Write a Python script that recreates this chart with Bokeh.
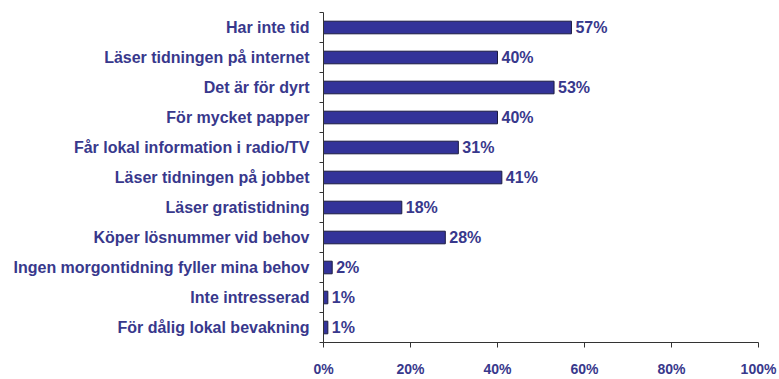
from bokeh.plotting import figure
from bokeh.models import FixedTicker, Range1d, ColumnDataSource
from bokeh.core.properties import value
from bokeh.embed import file_html
from bokeh.resources import INLINE

categories = [
    "Har inte tid",
    "Läser tidningen på internet",
    "Det är för dyrt",
    "För mycket papper",
    "Får lokal information i radio/TV",
    "Läser tidningen på jobbet",
    "Läser gratistidning",
    "Köper lösnummer vid behov",
    "Ingen morgontidning fyller mina behov",
    "Inte intresserad",
    "För dålig lokal bevakning",
]
values = [57, 40, 53, 40, 31, 41, 18, 28, 2, 1, 1]
x_ticks = [0, 20, 40, 60, 80, 100]
x_tick_labels = ["0%", "20%", "40%", "60%", "80%", "100%"]

BAR = "#333399"
TEXT = "#38388c"
FONT = "Liberation Sans"

n = len(categories)
ypos = [n - 1 - i for i in range(n)]
labels = [f"{v}%" for v in values]

src = ColumnDataSource(dict(y=ypos, v=values, lab=labels))

p = figure(width=779, height=379, output_backend="svg", toolbar_location=None,
           x_range=Range1d(0, 100), y_range=Range1d(-0.5, n - 0.5),
           min_border_left=323, min_border_right=21, min_border_top=12,
           min_border_bottom=31)
p.outline_line_color = None
p.grid.visible = False
p.background_fill_color = "white"

p.hbar(y="y", right="v", left=0, height=0.42, source=src,
       fill_color=BAR, line_color="#1a1a40", line_width=1)
p.text(x="v", y="y", text="lab", source=src, x_offset=4,
       text_baseline="middle", text_align="left",
       text_font=value(FONT), text_font_style="bold",
       text_font_size="16px", text_color=TEXT)

# y axis: labels at centres, tick marks at boundaries
yax = p.yaxis[0]
yax.ticker = FixedTicker(ticks=ypos, minor_ticks=[k - 0.5 for k in range(n + 1)])
yax.major_label_overrides = {y: c for y, c in zip(ypos, categories)}
yax.major_tick_out = 0
yax.major_tick_in = 0
yax.minor_tick_out = 4
yax.minor_tick_in = 0
yax.major_label_standoff = 10
yax.major_label_text_font = FONT
yax.major_label_text_font_style = "bold"
yax.major_label_text_font_size = "16px"
yax.major_label_text_color = TEXT
yax.axis_line_color = "#333333"
yax.minor_tick_line_color = "#333333"

xax = p.xaxis[0]
xax.ticker = FixedTicker(ticks=x_ticks, minor_ticks=[])
xax.major_label_overrides = {t: l for t, l in zip(x_ticks, x_tick_labels)}
xax.major_tick_out = 5
xax.major_tick_in = 0
xax.minor_tick_out = 0
xax.minor_tick_in = 0
xax.major_label_standoff = 13
xax.major_label_text_font = FONT
xax.major_label_text_font_style = "bold"
xax.major_label_text_font_size = "14px"
xax.major_label_text_color = TEXT
xax.axis_line_color = "#333333"
xax.major_tick_line_color = "#333333"

open("out.html", "w").write(file_html(p, INLINE))
